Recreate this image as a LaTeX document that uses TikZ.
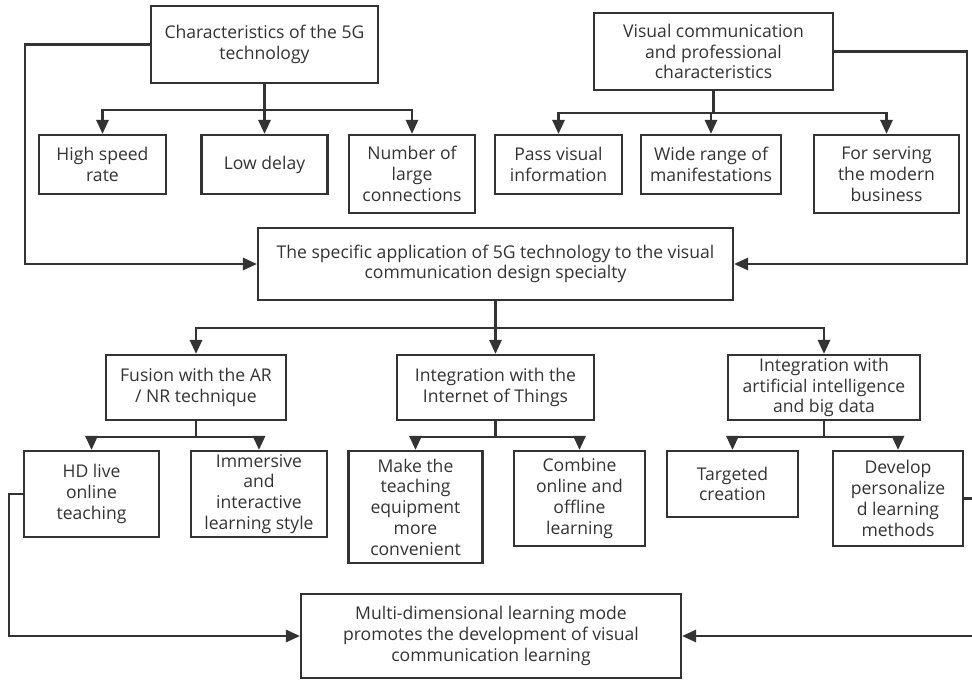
\documentclass[tikz,border=0pt]{standalone}
\usepackage{fontspec}
\setmainfont{Open Sans}
\usepackage{xcolor}
\usetikzlibrary{arrows.meta}

\definecolor{ink}{HTML}{333333}

\begin{document}
\begin{tikzpicture}[
    x=0.02cm, y=-0.02cm,
    >={Triangle[length=8pt, width=7pt]},
    box/.style={draw=ink, line width=1.3pt, align=center, inner sep=1pt,
                text=ink, font=\fontsize{10}{11.8}\selectfont},
    link/.style={->, draw=ink, line width=1.3pt}
]
    \useasboundingbox (0,0) rectangle (972,679);

    % Top sources
    \node[box, minimum width=4.54cm, minimum height=1.54cm] (tech) at (264.5, 44.5)
        {Characteristics of the 5G\\technology};
    \node[box, minimum width=4.78cm, minimum height=1.54cm] (vis) at (713.5, 51.5)
        {Visual communication\\and professional\\characteristics};

    % Characteristics of 5G
    \node[box, minimum width=2.54cm, minimum height=1.18cm] (speed) at (102.5, 164.5) {High speed\\rate};
    \node[box, minimum width=2.52cm, minimum height=1.18cm] (delay) at (264.5, 164.5) {Low delay};
    \node[box, minimum width=2.52cm, minimum height=1.56cm] (conn)  at (412, 174)     {Number of\\large\\connections};

    % Characteristics of the specialty
    \node[box, minimum width=2.54cm, minimum height=1.18cm] (pass)  at (558.5, 164.5) {Pass visual\\information};
    \node[box, minimum width=2.80cm, minimum height=1.18cm] (wide)  at (711, 164.5)   {Wide range of\\manifestations};
    \node[box, minimum width=2.90cm, minimum height=1.56cm] (serve) at (886.5, 174)   {For serving\\the modern\\business};

    % Central application
    \node[box, minimum width=9.50cm, minimum height=1.44cm] (app) at (495.5, 264)
        {The specific application of 5G technology to the visual\\communication design specialty};

    % Three directions
    \node[box, minimum width=3.60cm, minimum height=1.30cm] (ar)  at (196, 387.5)   {Fusion with the AR\\/ NR technique};
    \node[box, minimum width=3.94cm, minimum height=1.30cm] (iot) at (495.5, 387.5) {Integration with the\\Internet of Things};
    \node[box, minimum width=3.84cm, minimum height=1.30cm] (ai)  at (824, 387.5)   {Integration with\\artificial intelligence\\and big data};

    % Outcomes
    \node[box, minimum width=2.70cm, minimum height=1.72cm] (hd)    at (91.5, 494)  {HD live\\online\\teaching};
    \node[box, minimum width=2.72cm, minimum height=1.72cm] (imm)   at (259, 494)   {Immersive\\and\\interactive\\learning style};
    \node[box, minimum width=2.68cm, minimum height=2.24cm] (equip) at (415.5, 507) {Make the\\teaching\\equipment\\more\\convenient};
    \node[box, minimum width=2.62cm, minimum height=1.90cm] (comb)  at (579.5, 498.5) {Combine\\online and\\offline\\learning};
    \node[box, minimum width=2.62cm, minimum height=1.32cm] (targ)  at (732.5, 484) {Targeted\\creation};
    \node[box, minimum width=2.60cm, minimum height=1.90cm] (dev)   at (898, 498.5) {Develop\\personalize\\d learning\\methods};

    % Final result
    \node[box, minimum width=7.60cm, minimum height=1.68cm] (multi) at (491, 636)
        {Multi-dimensional learning mode\\promotes the development of visual\\communication learning};

    % Tree branches
    \foreach \c in {speed, delay, conn}
        \draw[link] (tech.south) -- ++(0,26) -| (\c.north);
    \foreach \c in {pass, wide, serve}
        \draw[link] (vis.south) -- ++(0,22) -| (\c.north);
    \foreach \c in {ar, iot, ai}
        \draw[link] (app.south) -- ++(0,27) -| (\c.north);
    \foreach \c in {hd, imm}
        \draw[link] (ar.south) -- ++(0,16) -| (\c.north);
    \foreach \c in {equip, comb}
        \draw[link] (iot.south) -- ++(0,16) -| (\c.north);
    \foreach \c in {targ, dev}
        \draw[link] (ai.south) -- ++(0,16) -| (\c.north);

    % Side links into the central and final boxes
    \draw[link] (tech.west) -- ++(-125,0) |- (app.west);
    \draw[link] (vis.east)  -- ++(133,0)  |- (app.east);
    \draw[link] (hd.west)   -- ++(-14,0)  |- (multi.west);
    \draw[link] (dev.east)  -- ++(30,0)   |- (multi.east);
\end{tikzpicture}
\end{document}
